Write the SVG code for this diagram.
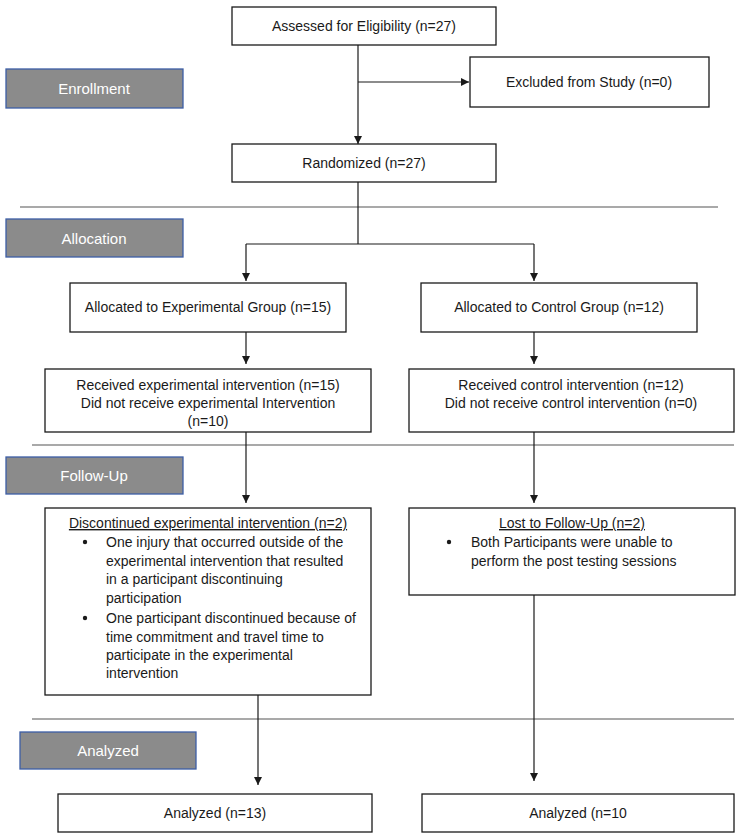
<svg xmlns="http://www.w3.org/2000/svg" width="753" height="837" viewBox="0 0 753 837">
<defs>
<marker id="arr" viewBox="0 0 10 10" refX="10" refY="5" markerWidth="8" markerHeight="8" markerUnits="userSpaceOnUse" orient="auto">
<path d="M0,0 L10,5 L0,10 z" fill="#1a1a1a"/>
</marker>
</defs>
<style>
.box{fill:#fff;stroke:#1a1a1a;stroke-width:1.3}
.lab{fill:#8b8b8b;stroke:#3c5ea6;stroke-width:1.3}
.t{font-family:"Liberation Sans",Arial,sans-serif;font-size:14px;fill:#1a1a1a}
.c{text-anchor:middle}
.lt{font-family:"Liberation Sans",Arial,sans-serif;font-size:15px;fill:#fff;text-anchor:middle}
.ln{stroke:#1a1a1a;stroke-width:1.2;fill:none}
.div{stroke:#555;stroke-width:1.2}
.bul{fill:#1a1a1a}
</style>
<rect width="753" height="837" fill="#fff"/>
<g id="dividers">
<line class="div" x1="20" y1="207" x2="718" y2="207"/>
<line class="div" x1="32" y1="445" x2="734" y2="445"/>
<line class="div" x1="32" y1="719" x2="734" y2="719"/>
</g>
<g id="label-enrollment"><rect class="lab" x="6" y="69" width="177" height="39"/><text class="lt" x="94" y="94">Enrollment</text></g>
<g id="label-allocation"><rect class="lab" x="6" y="219" width="177" height="38"/><text class="lt" x="94" y="244">Allocation</text></g>
<g id="label-followup"><rect class="lab" x="6" y="457" width="177" height="37"/><text class="lt" x="94" y="481">Follow-Up</text></g>
<g id="label-analyzed"><rect class="lab" x="20" y="732" width="176" height="37"/><text class="lt" x="108" y="756">Analyzed</text></g>
<g id="connectors">
<line class="ln" x1="358" y1="45" x2="358" y2="144" marker-end="url(#arr)"/>
<line class="ln" x1="358" y1="82" x2="469" y2="82" marker-end="url(#arr)"/>
<polyline class="ln" points="358,182 358,244"/>
<line class="ln" x1="246" y1="244" x2="534" y2="244"/>
<line class="ln" x1="246" y1="244" x2="246" y2="281" marker-end="url(#arr)"/>
<line class="ln" x1="534" y1="244" x2="534" y2="281" marker-end="url(#arr)"/>
<line class="ln" x1="246" y1="332" x2="246" y2="364" marker-end="url(#arr)"/>
<line class="ln" x1="534" y1="332" x2="534" y2="364" marker-end="url(#arr)"/>
<line class="ln" x1="246" y1="432" x2="246" y2="503" marker-end="url(#arr)"/>
<line class="ln" x1="534" y1="432" x2="534" y2="503" marker-end="url(#arr)"/>
<line class="ln" x1="258" y1="695" x2="258" y2="785" marker-end="url(#arr)"/>
<line class="ln" x1="534" y1="595" x2="534" y2="781" marker-end="url(#arr)"/>
</g>
<g id="assessed"><rect class="box" x="232" y="7" width="264" height="38"/><text class="t c" x="364" y="31">Assessed for Eligibility (n=27)</text></g>
<g id="excluded"><rect class="box" x="470" y="57" width="239" height="50"/><text class="t c" x="589" y="87">Excluded from Study (n=0)</text></g>
<g id="randomized"><rect class="box" x="232" y="144" width="264" height="38"/><text class="t c" x="364" y="168">Randomized (n=27)</text></g>
<g id="alloc-exp"><rect class="box" x="70" y="283" width="276" height="49"/><text class="t c" x="208" y="312">Allocated to Experimental Group (n=15)</text></g>
<g id="alloc-ctrl"><rect class="box" x="421" y="283" width="276" height="49"/><text class="t c" x="559" y="312">Allocated to Control Group (n=12)</text></g>
<g id="recv-exp"><rect class="box" x="45" y="369" width="326" height="63"/>
<text class="t c" x="208" y="390">Received experimental intervention (n=15)</text>
<text class="t c" x="208" y="408">Did not receive experimental Intervention</text>
<text class="t c" x="208" y="426">(n=10)</text></g>
<g id="recv-ctrl"><rect class="box" x="409" y="369" width="325" height="63"/>
<text class="t c" x="571" y="390">Received control intervention (n=12)</text>
<text class="t c" x="571" y="408">Did not receive control intervention (n=0)</text></g>
<g id="discontinued"><rect class="box" x="45" y="508" width="326" height="187"/>
<text class="t c" x="208" y="528" text-decoration="underline">Discontinued experimental intervention (n=2)</text>
<circle class="bul" cx="85" cy="542" r="2.2"/>
<text class="t" x="106" y="547">One injury that occurred outside of the</text>
<text class="t" x="106" y="566">experimental intervention that resulted</text>
<text class="t" x="106" y="584">in a participant discontinuing</text>
<text class="t" x="106" y="603">participation</text>
<circle class="bul" cx="85" cy="618" r="2.2"/>
<text class="t" x="106" y="623">One participant discontinued because of</text>
<text class="t" x="106" y="642">time commitment and travel time to</text>
<text class="t" x="106" y="660">participate in the experimental</text>
<text class="t" x="106" y="678">intervention</text></g>
<g id="lost"><rect class="box" x="409" y="508" width="326" height="87"/>
<text class="t c" x="572" y="528" text-decoration="underline">Lost to Follow-Up (n=2)</text>
<circle class="bul" cx="449" cy="542" r="2.2"/>
<text class="t" x="471" y="547">Both Participants were unable to</text>
<text class="t" x="471" y="566">perform the post testing sessions</text></g>
<g id="analyzed-exp"><rect class="box" x="58" y="794" width="314" height="38"/><text class="t c" x="215" y="818">Analyzed (n=13)</text></g>
<g id="analyzed-ctrl"><rect class="box" x="422" y="794" width="312" height="38"/><text class="t c" x="578" y="818">Analyzed (n=10</text></g>
</svg>
